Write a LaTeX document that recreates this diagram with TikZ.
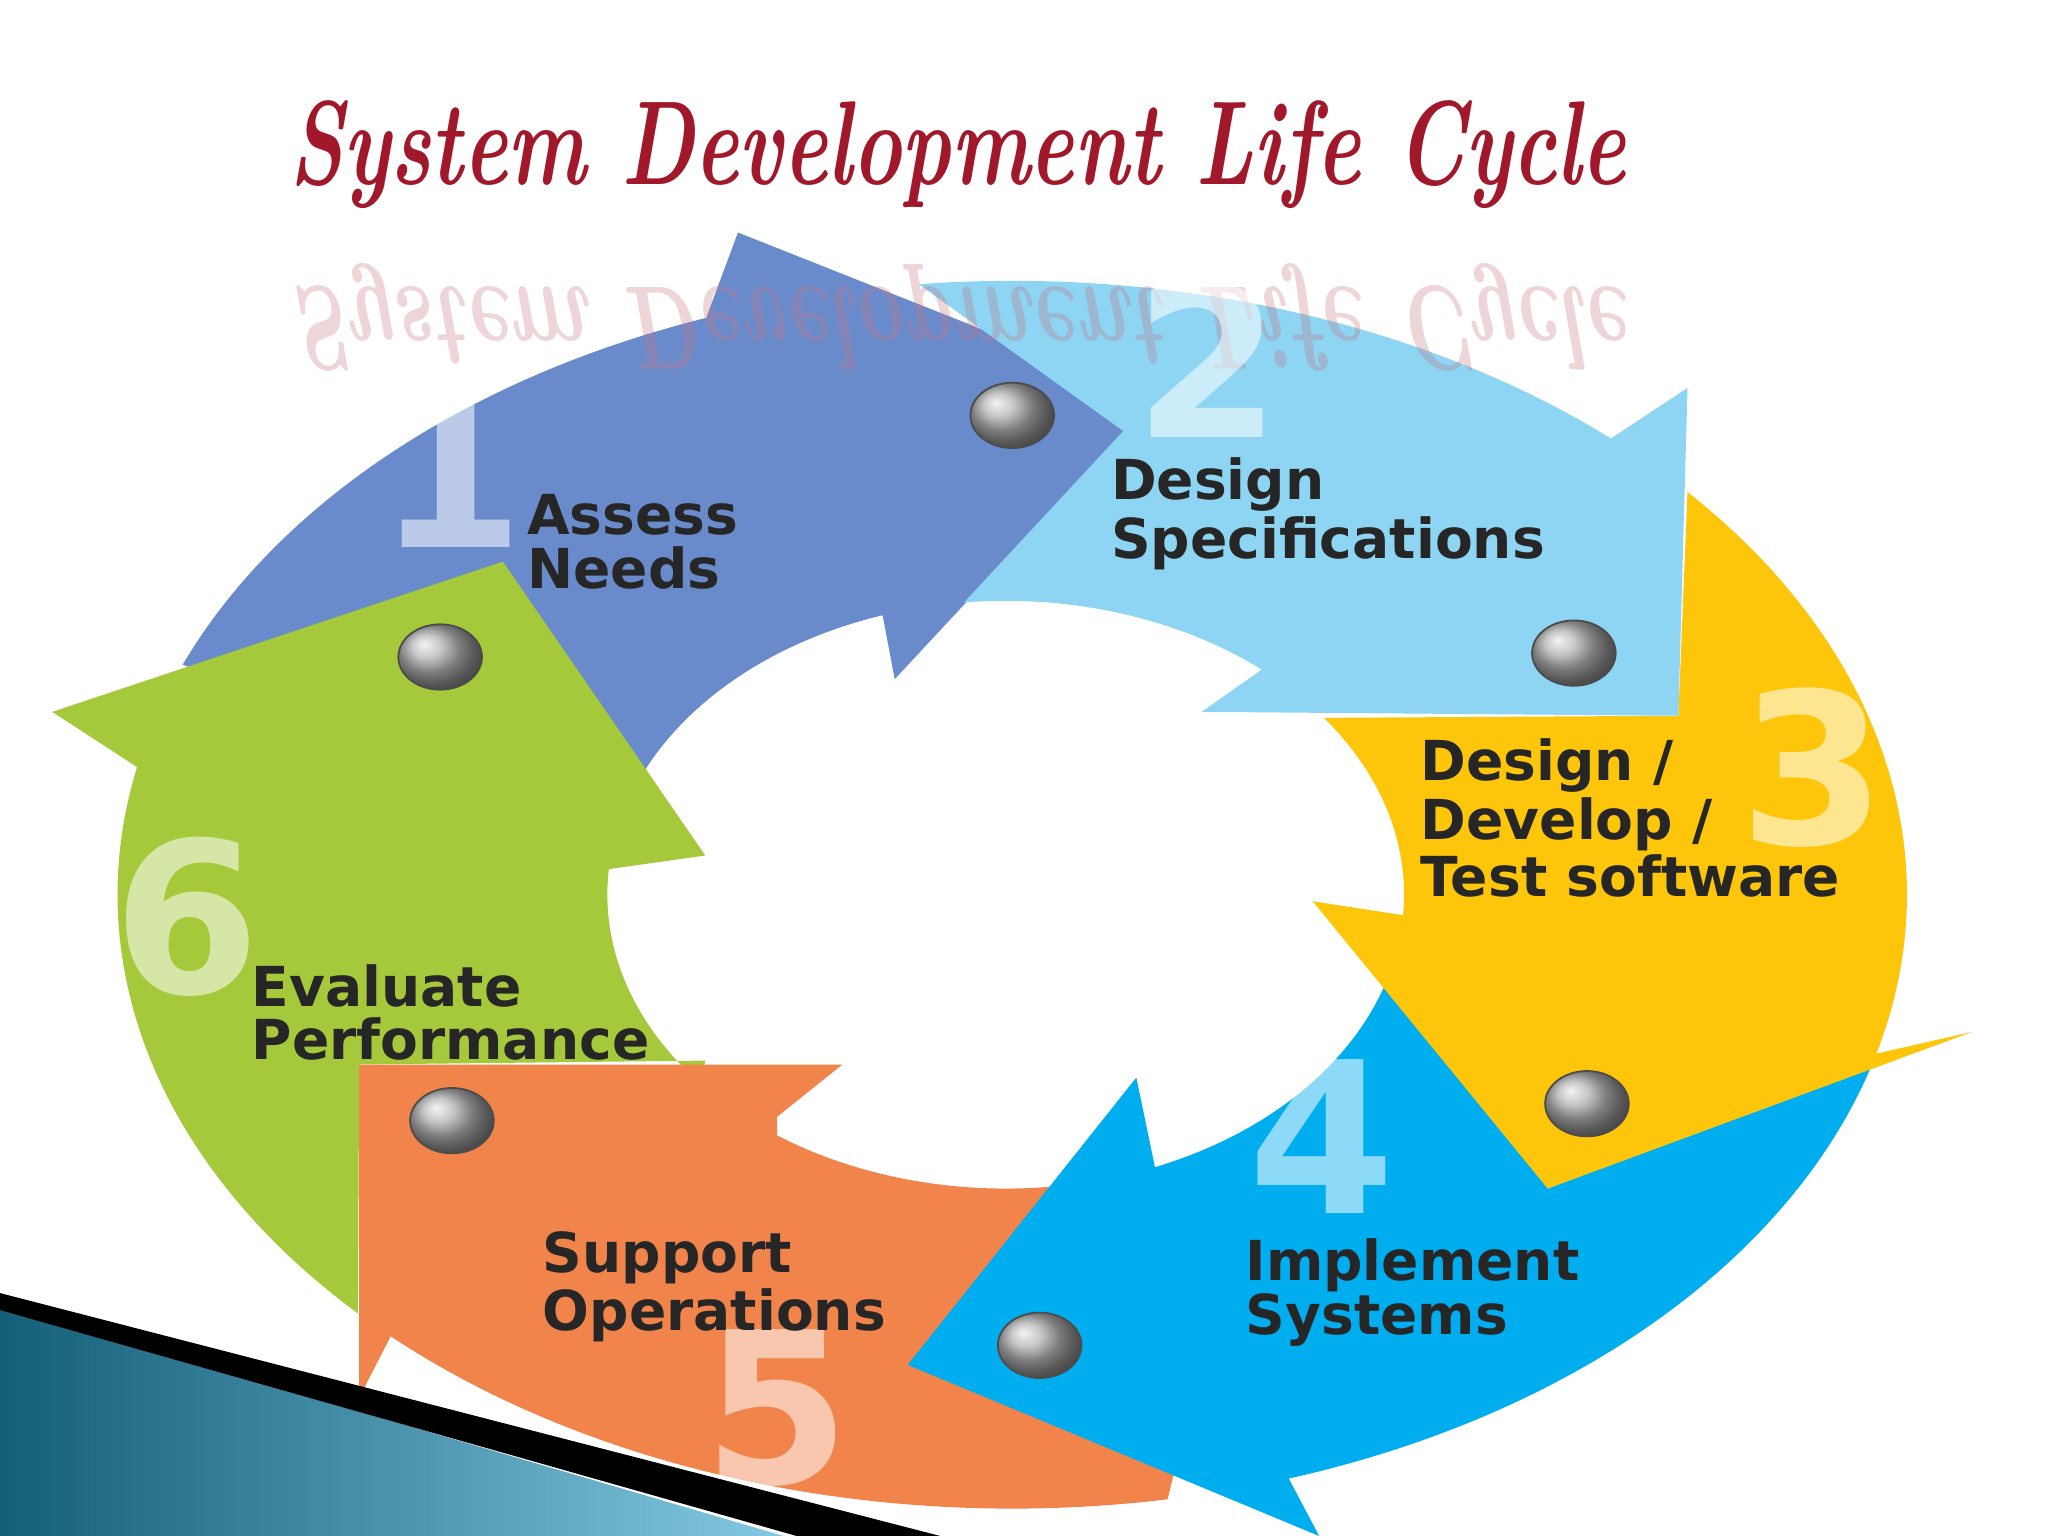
\documentclass[tikz,border=0pt]{standalone}
\usepackage{fontspec}
\setsansfont{DejaVu Sans}
\begin{document}
\begin{tikzpicture}[x=0.1mm,y=-0.1mm,
  seg/.style={line join=round},
  lbl/.style={anchor=north west,align=left,font=\sffamily\bfseries\fontsize{12}{11.6}\selectfont,text=black!85,inner sep=0},
  num/.style={font=\sffamily\bfseries\fontsize{46}{46}\selectfont,text=white,opacity=0.55,inner sep=0},
  ball/.style={ball color=gray!60,draw=gray!60!black,thin}]
\useasboundingbox (0,0) rectangle (1568,1176);
\fill[white] (0,0) rectangle (1568,1176);
\definecolor{c1}{HTML}{6A8BCB}
\definecolor{c2}{HTML}{8ED5F4}
\definecolor{c3}{HTML}{FDC60B}
\definecolor{c4}{HTML}{00ADEE}
\definecolor{c5}{HTML}{F0844A}
\definecolor{c6}{HTML}{A6C93B}
\definecolor{titlered}{HTML}{A0182A}
\def\OR{685 and 470}
\def\IR{305 and 225}
% 1 blue
\fill[c1,seg] ([shift={(775,685)}]202:\OR) arc[start angle=202,end angle=250,x radius=685,y radius=470] -- (565,178) -- (885,305) -- (685,520) -- ([shift={(770,685)}]252:\IR) arc[start angle=252,end angle=195,x radius=305,y radius=225] -- cycle;
% 6 green
\fill[c6,seg] (385,430) -- (540,655) -- ([shift={(770,685)}]185:\IR) arc[start angle=185,end angle=140,x radius=305,y radius=225] -- (540,812) -- (275,815) -- ([shift={(775,685)}]137:\OR) arc[start angle=137,end angle=192,x radius=685,y radius=470] -- (40,545) -- cycle;
% 5 orange
\fill[c5,seg] (275,815) -- (645,815) -- (595,855) -- ([shift={(770,685)}]125:\IR) arc[start angle=125,end angle=78,x radius=305,y radius=225] -- (930,1000) -- ([shift={(775,685)}]80:\OR) arc[start angle=80,end angle=134,x radius=685,y radius=470] -- (275,1070) -- cycle;
% 4 cyan
\fill[c4,seg] (1185,910) -- ([shift={(775,685)}]15:\OR) arc[start angle=15,end angle=72,x radius=685,y radius=470] -- (1010,1176) -- (695,1045) -- (870,825) -- ([shift={(770,685)}]68:\IR) arc[start angle=68,end angle=16,x radius=305,y radius=225] -- cycle;
% 3 yellow
\fill[c3,seg] ([shift={(775,685)}]-41:\OR) arc[start angle=-41,end angle=15,x radius=685,y radius=470] -- (1510,790) -- (1185,910) -- (1005,690) -- ([shift={(770,685)}]4:\IR) arc[start angle=4,end angle=-37,x radius=305,y radius=225] -- (1285,548) -- cycle;
% 2 light blue
\fill[c2,seg] ([shift={(775,685)}]-96:\OR) arc[start angle=-96,end angle=-48,x radius=685,y radius=470] -- (1292,297) -- (1285,548) -- (920,545) -- ([shift={(770,685)}]-50:\IR) arc[start angle=-50,end angle=-96,x radius=305,y radius=225] -- (860,330) -- cycle;
% banner
\shade[left color={rgb,255:red,20;green,95;blue,120},right color={rgb,255:red,130;green,200;blue,225}] (0,1000) -- (600,1176) -- (0,1176) -- cycle;
\fill[black] (0,990) -- (720,1176) -- (610,1176) -- (0,1003) -- cycle;
% title
\node (title) at (733,118) [xscale=0.7] {\color{titlered}\fontsize{26}{26}\selectfont\itshape\bfseries System Development Life Cycle};
\node (refl) at (733,243) [xscale=0.7,yscale=-1,opacity=0.3] {\color{titlered!60}\fontsize{26}{26}\selectfont\itshape\bfseries System Development Life Cycle};
% numbers
\node[num] (n1) at (345,360) {1};
\node[num] (n2) at (925,275) {2};
\node[num] (n3) at (1388,588) {3};
\node[num] (n4) at (1012,870) {4};
\node[num] (n5) at (595,1078) {5};
\node[num] (n6) at (143,702) {6};
% labels
\node[lbl] (l1) at (403,378) {Assess\\Needs};
\node[lbl] (l2) at (850,350) {Design\\Specifications};
\node[lbl] (l3) at (1087,565) {Design /\\Develop /\\Test software};
\node[lbl] (l4) at (953,948) {Implement\\Systems};
\node[lbl] (l5) at (415,942) {Support\\Operations};
\node[lbl] (l6) at (192,738) {Evaluate\\Performance};
% balls
\shade[ball] (775,318) ellipse (32 and 25);
\shade[ball] (1205,500) ellipse (32 and 25);
\shade[ball] (1215,845) ellipse (32 and 25);
\shade[ball] (796,1030) ellipse (32 and 25);
\shade[ball] (346,858) ellipse (32 and 25);
\shade[ball] (337,503) ellipse (32 and 25);
\end{tikzpicture}
\end{document}
